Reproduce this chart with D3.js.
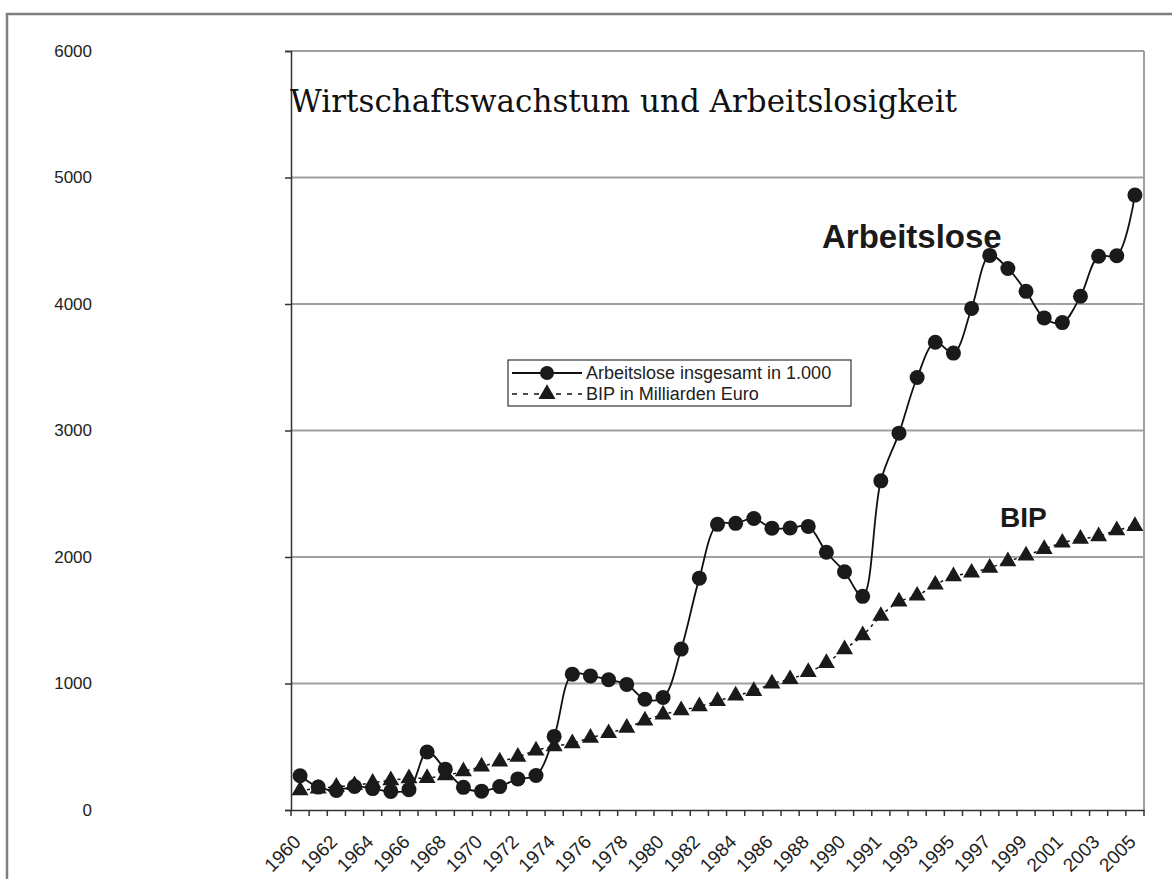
<!DOCTYPE html>
<html>
<head>
<meta charset="utf-8">
<script src="https://cdn.jsdelivr.net/npm/d3@7"></script>
<style>
  body { margin: 0; background: #fff; }
  svg { display: block; font-family: "Liberation Sans", Arial, sans-serif; }
</style>
</head>
<body>
<div id="chart"></div>
<script>
// years: West Germany up to 1991, then unified Germany from 1991
const years = [
    '1960', '1961', '1962', '1963', '1964', '1965', '1966', '1967', '1968', '1969',
    '1970', '1971', '1972', '1973', '1974', '1975', '1976', '1977', '1978', '1979',
    '1980', '1981', '1982', '1983', '1984', '1985', '1986', '1987', '1988', '1989',
    '1990', '1991',
    '1991', '1992', '1993', '1994', '1995', '1996', '1997', '1998', '1999', '2000',
    '2001', '2002', '2003', '2004', '2005'
]

const arbeitslose = [
    271, 181, 155, 186, 169, 147, 161, 459, 323, 179,
    149, 185, 246, 273, 582, 1074, 1060, 1030, 993, 876,
    889, 1272, 1833, 2258, 2266, 2304, 2228, 2229, 2242, 2038,
    1883, 1689,
    2602, 2979, 3419, 3698, 3612, 3965, 4384, 4281, 4100, 3890,
    3853, 4061, 4377, 4381, 4861
]

const bip = [
    155, 170, 184, 196, 215, 235, 250, 253, 273, 305,
    344, 383, 420, 470, 504, 527, 571, 607, 650, 707,
    755, 788, 819, 861, 904, 940, 1000, 1034, 1090, 1162,
    1270, 1380,
    1534, 1647, 1694, 1781, 1848, 1876, 1915, 1965, 2012, 2063,
    2113, 2143, 2164, 2211, 2244
]

const yTicks = [0, 1000, 2000, 3000, 4000, 5000, 6000]

const seriesNames = ['Arbeitslose insgesamt in 1.000', 'BIP in Milliarden Euro']

const width = 1172;
const height = 879;
const margin = { top: 51, right: 28, bottom: 69, left: 291 };

const svg = d3.select('#chart')
    .append('svg')
    .attr('width', width)
    .attr('height', height);

// outer chart frame (runs off the right and bottom edge)
svg.append('rect')
    .attr('x', 7).attr('y', 14)
    .attr('width', width + 20).attr('height', height + 20)
    .attr('fill', '#fff')
    .attr('stroke', '#7f7f7f')
    .attr('stroke-width', 2.5);

const x = d3.scaleBand()
    .domain(d3.range(years.length))
    .range([margin.left, width - margin.right]);

const y = d3.scaleLinear()
    .domain([0, 6000])
    .range([height - margin.bottom, margin.top]);

const cx = i => x(i) + x.bandwidth() / 2;

// gridlines
svg.append('g')
    .selectAll('line')
    .data(yTicks.filter(d => d > 0))
    .join('line')
    .attr('x1', margin.left)
    .attr('x2', width - margin.right)
    .attr('y1', d => y(d))
    .attr('y2', d => y(d))
    .attr('stroke', '#a0a0a0')
    .attr('stroke-width', 2);

// right border of plot area
svg.append('line')
    .attr('x1', width - margin.right).attr('x2', width - margin.right)
    .attr('y1', y(6000)).attr('y2', y(0))
    .attr('stroke', '#a0a0a0')
    .attr('stroke-width', 2);

// y axis
const yAxis = svg.append('g')
    .attr('transform', `translate(${margin.left},0)`)
    .call(d3.axisLeft(y).tickValues(yTicks).tickSize(6).tickPadding(0).tickFormat(d3.format('d')));
yAxis.select('.domain').attr('stroke', '#333').attr('stroke-width', 1.5);
yAxis.selectAll('.tick line').attr('stroke', '#333').attr('stroke-width', 1.5);
yAxis.selectAll('.tick text')
    .attr('x', 92 - margin.left)
    .attr('fill', '#222')
    .attr('font-size', '17px');

// x axis
const xAxis = svg.append('g')
    .attr('transform', `translate(0,${y(0)})`)
    .call(d3.axisBottom(x).tickSize(0).tickFormat(''));
xAxis.select('.domain').attr('stroke', '#333').attr('stroke-width', 1.5);

svg.append('g')
    .selectAll('line')
    .data(d3.range(years.length + 1))
    .join('line')
    .attr('x1', i => i < years.length ? x(i) : x(years.length - 1) + x.bandwidth())
    .attr('x2', i => i < years.length ? x(i) : x(years.length - 1) + x.bandwidth())
    .attr('y1', y(0))
    .attr('y2', y(0) + 6)
    .attr('stroke', '#333')
    .attr('stroke-width', 1.5);

svg.append('g')
    .selectAll('text')
    .data(d3.range(years.length).filter(i => i % 2 === 0))
    .join('text')
    .attr('transform', i => `translate(${cx(i) + 2},${y(0) + 33}) rotate(-45)`)
    .attr('text-anchor', 'end')
    .attr('font-size', '19px')
    .attr('fill', '#222')
    .text(i => years[i]);

// lines
const line = d3.line()
    .x((d, i) => cx(i))
    .y(d => y(d))
    .curve(d3.curveCatmullRom.alpha(0.5));

svg.append('path')
    .datum(bip)
    .attr('fill', 'none')
    .attr('stroke', '#111')
    .attr('stroke-width', 1.5)
    .attr('stroke-dasharray', '3,4')
    .attr('d', line);

svg.append('path')
    .datum(arbeitslose)
    .attr('fill', 'none')
    .attr('stroke', '#111')
    .attr('stroke-width', 1.8)
    .attr('d', line);

// markers
const tri = d3.symbol().type(d3.symbolTriangle).size(125);

svg.append('g')
    .selectAll('path')
    .data(bip)
    .join('path')
    .attr('transform', (d, i) => `translate(${cx(i)},${y(d)})`)
    .attr('d', tri)
    .attr('fill', '#1a1a1a');

svg.append('g')
    .selectAll('circle')
    .data(arbeitslose)
    .join('circle')
    .attr('cx', (d, i) => cx(i))
    .attr('cy', d => y(d))
    .attr('r', 7.5)
    .attr('fill', '#1a1a1a');

// title
svg.append('text')
    .attr('x', 290)
    .attr('y', 112)
    .attr('font-family', '"DejaVu Serif", serif')
    .attr('font-size', '31px')
    .attr('fill', '#111')
    .text('Wirtschaftswachstum und Arbeitslosigkeit');

// series labels
svg.append('text')
    .attr('x', 822).attr('y', 248)
    .attr('font-size', '33px').attr('font-weight', 'bold').attr('fill', '#1a1a1a')
    .text('Arbeitslose');

svg.append('text')
    .attr('x', 1000).attr('y', 527)
    .attr('font-size', '28px').attr('font-weight', 'bold').attr('fill', '#1a1a1a')
    .text('BIP');

// legend
const legend = svg.append('g').attr('transform', 'translate(508,360)');
legend.append('rect')
    .attr('width', 343).attr('height', 46)
    .attr('fill', '#fff').attr('stroke', '#333').attr('stroke-width', 1.2);

const rows = legend.selectAll('g.row')
    .data(seriesNames)
    .join('g')
    .attr('transform', (d, i) => `translate(0,${13 + i * 21})`);

rows.append('line')
    .attr('x1', 4).attr('x2', 74).attr('y1', 0).attr('y2', 0)
    .attr('stroke', '#111')
    .attr('stroke-width', (d, i) => i === 0 ? 1.8 : 1.5)
    .attr('stroke-dasharray', (d, i) => i === 0 ? null : '5,6');

rows.each(function (d, i) {
    const g = d3.select(this);
    if (i === 0) {
        g.append('circle').attr('cx', 39).attr('cy', 0).attr('r', 7).attr('fill', '#1a1a1a');
    } else {
        g.append('path').attr('transform', 'translate(39,0)').attr('d', tri).attr('fill', '#1a1a1a');
    }
});

rows.append('text')
    .attr('x', 78).attr('y', 6)
    .attr('font-size', '18px').attr('fill', '#222')
    .text(d => d);
</script>
</body>
</html>
